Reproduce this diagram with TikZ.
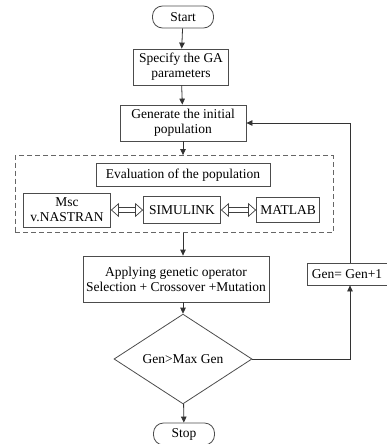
\documentclass[tikz,border=0pt]{standalone}
\usepackage{fontspec}
\setmainfont{Liberation Serif}
\usetikzlibrary{arrows.meta, shapes.geometric, positioning}

\begin{document}
\begin{tikzpicture}[x=1pt,y=-1pt,
 >={Triangle[length=6pt,width=5.5pt]},
 every node/.style={font=\fontsize{13.5}{15}\selectfont},
 flowbox/.style={rectangle,draw=black!70,line width=0.8pt,
   align=center,inner sep=1pt},
 termbox/.style={rectangle,rounded corners=10pt,draw=black!70,line width=0.8pt,
   minimum width=61pt,minimum height=22pt,inner sep=1pt},
 groupbox/.style={rectangle,draw=black!60,line width=0.8pt,
   dash pattern=on 5pt off 3pt},
 testbox/.style={diamond,draw=black!70,line width=0.8pt,inner sep=0pt,
   minimum width=138pt,minimum height=80pt},
 flow/.style={->,line width=0.8pt,black!80},
 link/.style={double,double distance=4.5pt,line width=0.7pt,black!75,
   {Triangle[open,length=8pt,width=14pt]}-{Triangle[open,length=8pt,width=14pt]}}]
 \useasboundingbox (0,0) rectangle (386,444);
 \node[termbox] (start) at (183,17) {Start};
 \node[flowbox,minimum width=95pt,minimum height=36pt] (params) at (181,67)
   {Specify the GA\\parameters};
 \node[flowbox,minimum width=126pt,minimum height=36pt] (init) at (183,123)
   {Generate the initial\\population};
 % evaluation group
 \node[groupbox,minimum width=318pt,minimum height=77pt] (evalgroup) at (174,194) {};
 \node[flowbox,minimum width=174pt,minimum height=23pt] (evaltitle) at (183,175)
   {Evaluation of the population};
 \node[flowbox,minimum width=87pt,minimum height=34pt] (nastran) at (67,210)
   {Msc\\v.NASTRAN};
 \node[flowbox,minimum width=77pt,minimum height=27pt] (simulink) at (182,210)
   {SIMULINK};
 \node[flowbox,minimum width=63pt,minimum height=25pt] (matlab) at (288,210)
   {MATLAB};
 \node[flowbox,minimum width=186pt,minimum height=46pt] (operator) at (176,279)
   {Applying genetic operator\\Selection + Crossover +Mutation};
 \node[testbox] (check) at (183,359) {Gen>Max Gen};
 \node[termbox] (stop) at (184,434) {Stop};
 \node[flowbox,minimum width=80pt,minimum height=22pt] (counter) at (347,274)
   {Gen= Gen+1};
 \draw[flow] (start) -- (params);
 \draw[flow] (params) -- (init);
 \draw[flow] (init) -- (evalgroup.north -| init);
 \draw[link] (nastran) -- (simulink);
 \draw[link] (simulink) -- (matlab);
 \draw[flow] (evalgroup.south -| init) -- (operator.north -| init);
 \draw[flow] (operator.south -| check) -- (check);
 \draw[flow] (check) -- (stop);
 \draw[flow] (check.east) -| (counter.south -| 350,0);
 \draw[flow] (counter.north -| 350,0) |- (init.east);
\end{tikzpicture}
\end{document}
